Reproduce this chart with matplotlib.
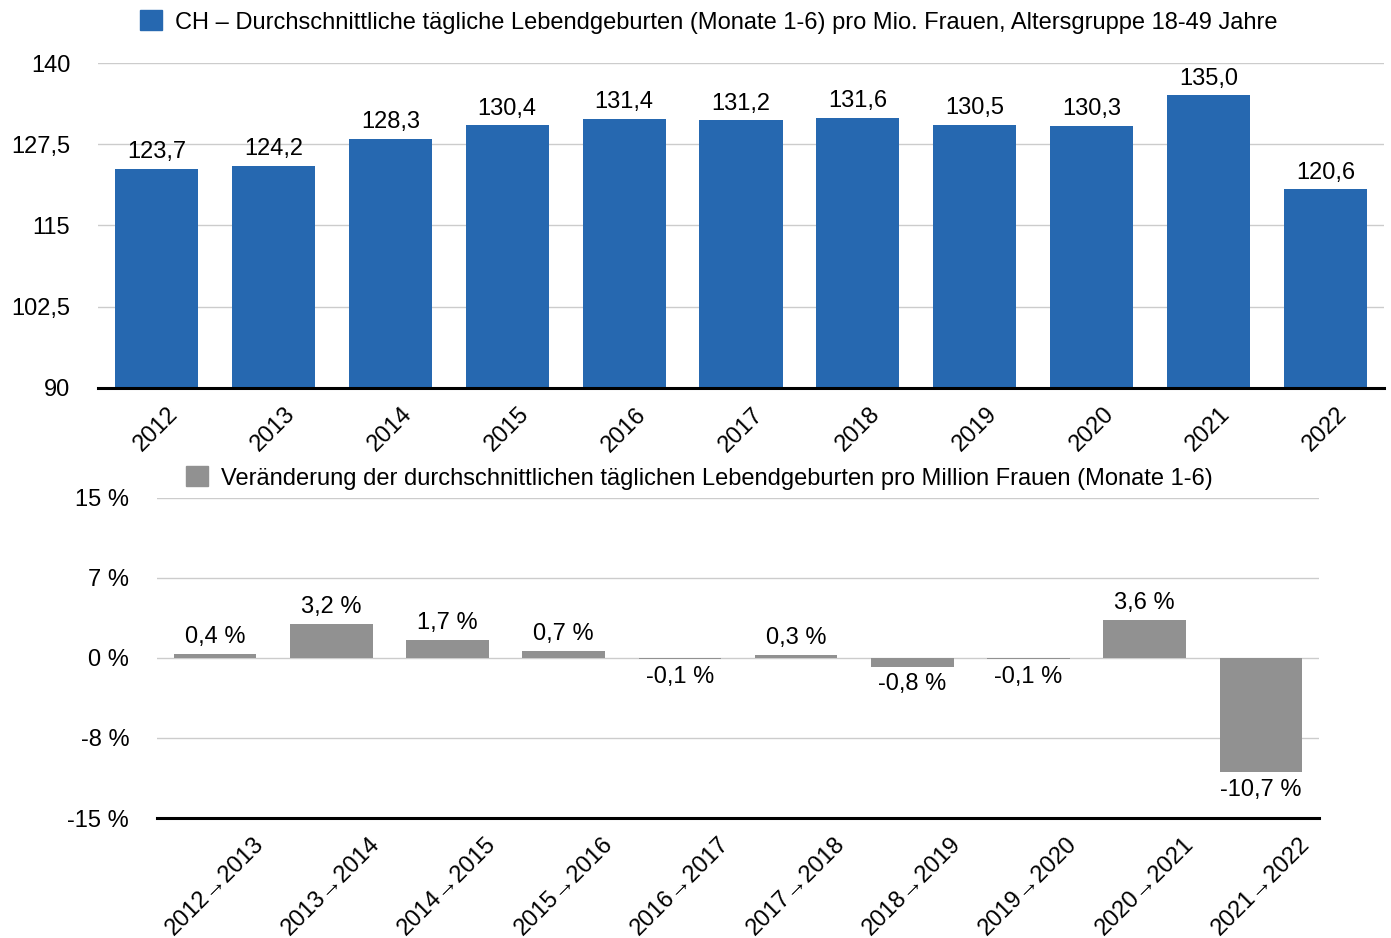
import matplotlib
matplotlib.use("Agg")
import matplotlib.pyplot as plt
from matplotlib.patches import Patch

plt.rcParams['font.family'] = ['Liberation Sans', 'DejaVu Sans']

# data
years = ['2012', '2013', '2014', '2015', '2016', '2017', '2018', '2019', '2020', '2021', '2022']
births = [123.7, 124.2, 128.3, 130.4, 131.4, 131.2, 131.6, 130.5, 130.3, 135.0, 120.6]
change_labels = ['2012→2013', '2013→2014', '2014→2015', '2015→2016', '2016→2017',
                 '2017→2018', '2018→2019', '2019→2020', '2020→2021', '2021→2022']
change_pct = [0.4, 3.2, 1.7, 0.7, -0.1, 0.3, -0.8, -0.1, 3.6, -10.7]

top_ticks = [90, 102.5, 115, 127.5, 140]
top_ticklabels = ['90', '102,5', '115', '127,5', '140']
bot_ticks = [-15, -7.5, 0, 7.5, 15]
bot_ticklabels = ['-15 %', '-8 %', '0 %', '7 %', '15 %']

legend_top = 'CH – Durchschnittliche tägliche Lebendgeburten (Monate 1-6) pro Mio. Frauen, Altersgruppe 18-49 Jahre'
legend_bot = 'Veränderung der durchschnittlichen täglichen Lebendgeburten pro Million Frauen (Monate 1-6)'

blue = '#2668b0'
grey = '#919191'
fs = 17

W, H = 1391, 938
fig = plt.figure(figsize=(W / 100, H / 100), dpi=100)

def box(l, t, r, b):
    return [l / W, 1 - b / H, (r - l) / W, (b - t) / H]

# ---- top chart
ax1 = fig.add_axes(box(98, 63, 1384, 388))
x1 = range(len(years))
ax1.bar(x1, births, width=0.71, color=blue, zorder=2)
ax1.set_xlim(-0.5, len(years) - 0.5)
ax1.set_ylim(90, 140)
ax1.set_yticks(top_ticks)
ax1.set_yticklabels(top_ticklabels)
ax1.set_xticks(list(x1))
ax1.set_xticklabels(years, rotation=45, ha='center', va='top')
for v, x in zip(births, x1):
    ax1.annotate(f'{v:.1f}'.replace('.', ','), (x, v), xytext=(0, 4),
                 textcoords='offset points', ha='center', va='bottom', fontsize=fs)

# ---- bottom chart
ax2 = fig.add_axes(box(157, 498, 1319, 818))
x2 = range(len(change_labels))
ax2.bar(x2, change_pct, width=0.71, color=grey, zorder=2)
ax2.set_xlim(-0.5, len(change_labels) - 0.5)
ax2.set_ylim(-15, 15)
ax2.set_yticks(bot_ticks)
ax2.set_yticklabels(bot_ticklabels)
ax2.set_xticks(list(x2))
ax2.set_xticklabels(change_labels, rotation=45, ha='center', va='top')
for v, x in zip(change_pct, x2):
    txt = f'{v:.1f} %'.replace('.', ',')
    if v >= 0:
        ax2.annotate(txt, (x, v), xytext=(0, 4), textcoords='offset points',
                     ha='center', va='bottom', fontsize=fs)
    else:
        ax2.annotate(txt, (x, v), xytext=(0, -5), textcoords='offset points',
                     ha='center', va='top', fontsize=fs)

for ax in (ax1, ax2):
    for s in ('top', 'right', 'left'):
        ax.spines[s].set_visible(False)
    ax.spines['bottom'].set_linewidth(2.2)
    ax.spines['bottom'].set_color('black')
    ax.spines['bottom'].set_zorder(3)
    ax.grid(axis='y', color='#cccccc', linewidth=1, zorder=0)
    ax.tick_params(axis='both', length=0, labelsize=fs)
    ax.tick_params(axis='y', pad=20)
ax1.tick_params(axis='x', pad=11)
ax2.tick_params(axis='x', pad=11)

fig.legend(handles=[Patch(color=blue, label=legend_top)], loc='center left',
           bbox_to_anchor=(140 / W, 1 - 22 / H), frameon=False, fontsize=fs,
           handlelength=0.92, handleheight=0.92, handletextpad=0.58, borderaxespad=0,
           borderpad=0)
fig.legend(handles=[Patch(color=grey, label=legend_bot)], loc='center left',
           bbox_to_anchor=(186 / W, 1 - 478 / H), frameon=False, fontsize=fs,
           handlelength=0.92, handleheight=0.92, handletextpad=0.58, borderaxespad=0,
           borderpad=0)

fig.savefig('out.png', dpi=100)
